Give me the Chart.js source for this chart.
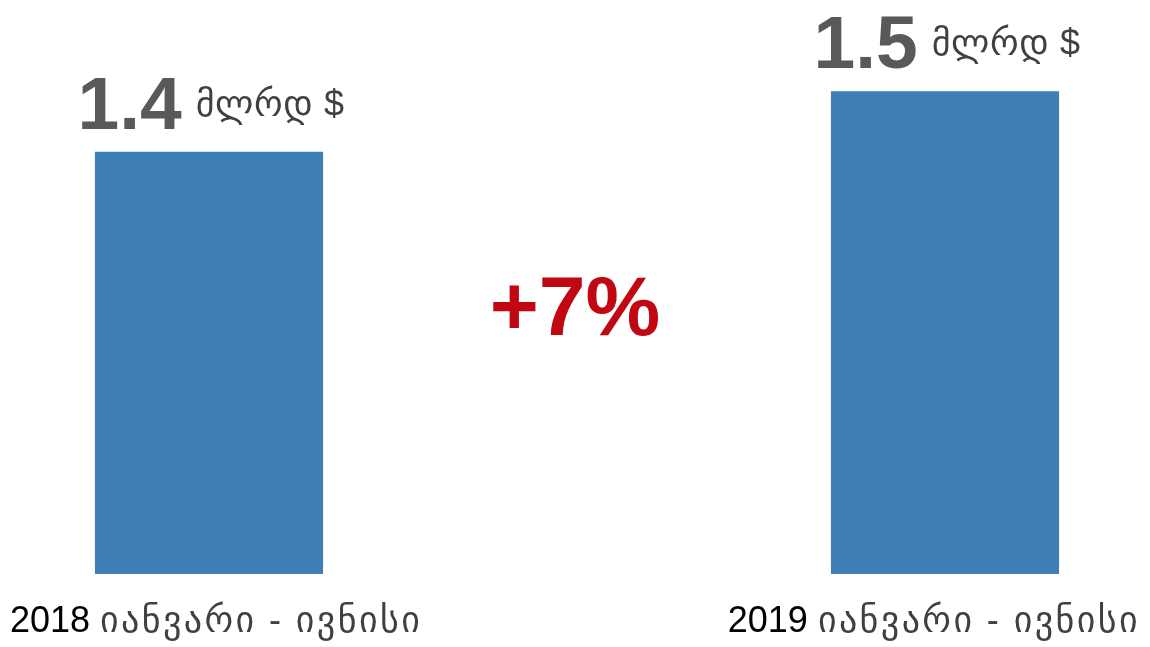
<!DOCTYPE html>
<html>
<head>
<meta charset="utf-8">
<script src="https://cdn.jsdelivr.net/npm/chart.js@4"></script>
<style>
  html, body { margin: 0; padding: 0; background: #ffffff; }
  #wrap { width: 1150px; height: 647px; position: relative; }
</style>
</head>
<body>
<div id="wrap"><canvas id="c" width="1150" height="647"></canvas></div>
<script>
// ---- data ----
const years = ["2018", "", "2019"];
const period = "იანვარი - ივნისი";
const values = [1.4, null, 1.5];
const valueLabels = ["1.4", "", "1.5"];
const unit = "მლრდ $";
const changeLabel = "+7%";

const BAR_COLOR = "#3E7FB8";
const FONT = "'Liberation Sans', Arial, 'DejaVu Sans', sans-serif";

const labelsPlugin = {
  id: "customLabels",
  afterDatasetsDraw(chart) {
    const ctx = chart.ctx;
    const meta = chart.getDatasetMeta(0);
    const xScale = chart.scales.x;
    const area = chart.chartArea;
    ctx.save();
    meta.data.forEach((bar, i) => {
      const cx = xScale.getPixelForValue(i);
      if (values[i] != null) {
        ctx.textBaseline = "alphabetic";
        ctx.textAlign = "left";
        ctx.letterSpacing = "0px";
        ctx.font = "bold 75px " + FONT;
        const wNum = ctx.measureText(valueLabels[i]).width;
        ctx.font = "36px " + FONT;
        ctx.letterSpacing = "0.6px";
        const wUnit = ctx.measureText(unit).width;
        const gap = 14;
        const total = wNum + gap + wUnit;
        const x0 = cx - total / 2 + 2;
        const base = bar.y - 23;
        ctx.letterSpacing = "0px";
        ctx.fillStyle = "#595959";
        ctx.font = "bold 75px " + FONT;
        ctx.fillText(valueLabels[i], x0, base);
        ctx.font = "36px " + FONT;
        ctx.letterSpacing = "0.6px";
        ctx.fillStyle = "#404040";
        ctx.fillText(unit, x0 + wNum + gap, base - 13);
        ctx.letterSpacing = "0px";
      }
      if (years[i]) {
        ctx.textBaseline = "alphabetic";
        ctx.textAlign = "left";
        ctx.font = "36px " + FONT;
        ctx.letterSpacing = "0px";
        const yearTxt = years[i] + " ";
        const wy = ctx.measureText(yearTxt).width;
        ctx.letterSpacing = "2.4px";
        const wp = ctx.measureText(period).width;
        const total = wy + wp;
        let x0 = cx - total / 2 + 4;
        if (x0 + total > chart.width - 10) x0 = chart.width - 10 - total;
        if (x0 < 10) x0 = 10;
        const base = area.bottom + 58;
        ctx.letterSpacing = "0px";
        ctx.fillStyle = "#000000";
        ctx.fillText(yearTxt, x0, base);
        ctx.letterSpacing = "2.4px";
        ctx.fillStyle = "#404040";
        ctx.fillText(period, x0 + wy, base);
        ctx.letterSpacing = "0px";
      } else {
        ctx.font = "bold 84px " + FONT;
        ctx.textAlign = "center";
        ctx.textBaseline = "alphabetic";
        ctx.letterSpacing = "0px";
        ctx.fillStyle = "#C00712";
        ctx.fillText(changeLabel, cx - 2, (area.top + area.bottom) / 2 + 32);
      }
    });
    ctx.restore();
  }
};

new Chart(document.getElementById("c"), {
  type: "bar",
  data: {
    labels: years,
    datasets: [{
      data: values,
      backgroundColor: BAR_COLOR,
      borderWidth: 0,
      categoryPercentage: 1.0,
      barPercentage: 0.62
    }]
  },
  options: {
    responsive: false,
    animation: false,
    devicePixelRatio: 1,
    layout: { padding: { left: 25, right: 21, top: 31, bottom: 73 } },
    plugins: { legend: { display: false }, tooltip: { enabled: false } },
    scales: {
      x: { display: false },
      y: { display: false, min: 0.7, max: 1.6 }
    }
  },
  plugins: [labelsPlugin]
});
</script>
</body>
</html>
